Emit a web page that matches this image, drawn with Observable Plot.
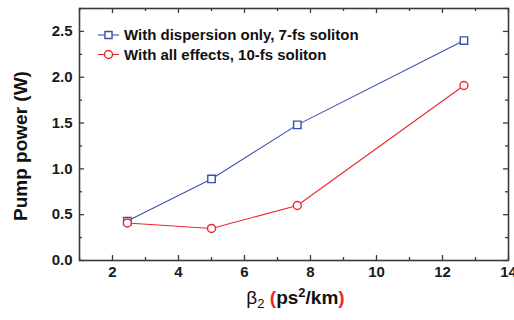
<!DOCTYPE html>
<html>
<head>
<meta charset="utf-8">
<script src="https://cdn.jsdelivr.net/npm/d3@7"></script>
<script src="https://cdn.jsdelivr.net/npm/@observablehq/plot@0.6"></script>
<style>
  html, body { margin: 0; padding: 0; background: #fff; }
  #chart { width: 514px; height: 320px; }
</style>
</head>
<body>
<div id="chart"></div>
<script>
// ---- data ----
const beta2 = [2.45, 5.0, 7.6, 12.65];
const dispersionOnly = [0.43, 0.89, 1.48, 2.40];
const allEffects = [0.41, 0.35, 0.60, 1.91];
const seriesNames = ["With dispersion only, 7-fs soliton", "With all effects, 10-fs soliton"];
const xMajorTicks = [2, 4, 6, 8, 10, 12, 14];
const xMinorTicks = [1, 3, 5, 7, 9, 11, 13];
const yMajorTicks = [0, 0.5, 1.0, 1.5, 2.0, 2.5];
const yMinorTicks = [0.25, 0.75, 1.25, 1.75, 2.25, 2.75];
const yLabel = "Pump power (W)";

// ---- layout ----
const W = 514, H = 320;
const mL = 79, mR = 6, mT = 8, mB = 60;
const innerW = W - mL - mR, innerH = H - mT - mB;
const blue = "#3b4db3", red = "#e8282c", frameColor = "#3a3a3a";
const font = "'Liberation Sans', Arial, Helvetica, sans-serif";

const rowsA = beta2.map((x, i) => ({x, y: dispersionOnly[i]}));
const rowsB = beta2.map((x, i) => ({x, y: allEffects[i]}));

const tickLen = 5, minorLen = 3;
const chart = Plot.plot({
  width: W, height: H,
  marginLeft: mL, marginRight: mR, marginTop: mT, marginBottom: mB,
  style: {fontFamily: font, fontWeight: "bold", fontSize: "15px", color: "#1a1a1a", background: "#fff"},
  x: {domain: [1, 14], ticks: xMajorTicks, tickFormat: d => String(d)},
  y: {domain: [0, 2.75], ticks: yMajorTicks, tickFormat: d => d.toFixed(1)},
  marks: [
    Plot.axisX(xMajorTicks, {tickSize: 0, tickPadding: 6, label: null, fontSize: 15, fontWeight: "bold"}),
    Plot.axisY(yMajorTicks, {tickSize: 0, tickPadding: 7, label: null, fontSize: 15, fontWeight: "bold", tickFormat: d => d.toFixed(1)}),
    // inward ticks on all four sides
    Plot.tickX(xMajorTicks, {x: d => d, insetTop: innerH - tickLen, stroke: frameColor, strokeWidth: 1.3}),
    Plot.tickX(xMinorTicks, {x: d => d, insetTop: innerH - minorLen, stroke: frameColor, strokeWidth: 1.3}),
    Plot.tickX(xMajorTicks, {x: d => d, insetBottom: innerH - tickLen, stroke: frameColor, strokeWidth: 1.3}),
    Plot.tickX(xMinorTicks, {x: d => d, insetBottom: innerH - minorLen, stroke: frameColor, strokeWidth: 1.3}),
    Plot.tickY(yMajorTicks, {y: d => d, insetRight: innerW - tickLen, stroke: frameColor, strokeWidth: 1.3}),
    Plot.tickY(yMinorTicks, {y: d => d, insetRight: innerW - minorLen, stroke: frameColor, strokeWidth: 1.3}),
    Plot.tickY(yMajorTicks, {y: d => d, insetLeft: innerW - tickLen, stroke: frameColor, strokeWidth: 1.3}),
    Plot.tickY(yMinorTicks, {y: d => d, insetLeft: innerW - minorLen, stroke: frameColor, strokeWidth: 1.3}),
    Plot.frame({stroke: frameColor, strokeWidth: 1.6}),
    Plot.line(rowsA, {x: "x", y: "y", stroke: blue, strokeWidth: 1.1}),
    Plot.line(rowsB, {x: "x", y: "y", stroke: red, strokeWidth: 1.1}),
    Plot.dot(rowsA, {x: "x", y: "y", symbol: "square", r: 4.2, stroke: blue, fill: "white", strokeWidth: 1.4}),
    Plot.dot(rowsB, {x: "x", y: "y", symbol: "circle", r: 4, stroke: red, fill: "white", strokeWidth: 1.4})
  ]
});
document.getElementById("chart").appendChild(chart);

// ---- legend & axis titles (real SVG text) ----
const svg = d3.select(chart);
const legend = svg.append("g").attr("font-family", font).attr("font-weight", "bold")
  .attr("font-size", 15).attr("text-anchor", "start");
const legendItems = [
  {name: seriesNames[0], color: blue, symbol: d3.symbolSquare, size: 50},
  {name: seriesNames[1], color: red, symbol: d3.symbolCircle, size: 50}
];
legendItems.forEach((it, i) => {
  const y = mT + 27 + i * 19.5;
  const g = legend.append("g").attr("transform", `translate(${mL + 19},${y})`);
  g.append("line").attr("x1", 0).attr("x2", 21).attr("stroke", it.color).attr("stroke-width", 1.1);
  g.append("path").attr("d", d3.symbol(it.symbol, it.size)()).attr("transform", "translate(10.5,0)")
    .attr("fill", "white").attr("stroke", it.color).attr("stroke-width", 1.4);
  g.append("text").attr("x", 26).attr("dy", "0.36em").attr("fill", "#111").text(it.name);
});

svg.append("text")
  .attr("transform", `translate(27,${mT + innerH / 2 + 12}) rotate(-90)`)
  .attr("text-anchor", "middle")
  .attr("font-family", font).attr("font-weight", "bold").attr("font-size", 19)
  .attr("fill", "#111").text(yLabel);

const xt = svg.append("text")
  .attr("x", mL + innerW / 2 + 2).attr("y", 304)
  .attr("text-anchor", "middle")
  .attr("font-family", font).attr("font-weight", "bold").attr("font-size", 19);
xt.append("tspan").attr("fill", "#111").attr("font-weight", "normal").text("β");
xt.append("tspan").attr("fill", "#111").attr("font-weight", "normal").attr("font-size", 13).attr("dy", 4).text("2");
xt.append("tspan").attr("fill", red).attr("dy", -4).text(" (");
xt.append("tspan").attr("fill", "#111").text("ps");
xt.append("tspan").attr("fill", "#111").attr("font-size", 13).attr("dy", -7).text("2");
xt.append("tspan").attr("fill", "#111").attr("dy", 7).text("/km");
xt.append("tspan").attr("fill", red).text(")");
</script>
</body>
</html>
